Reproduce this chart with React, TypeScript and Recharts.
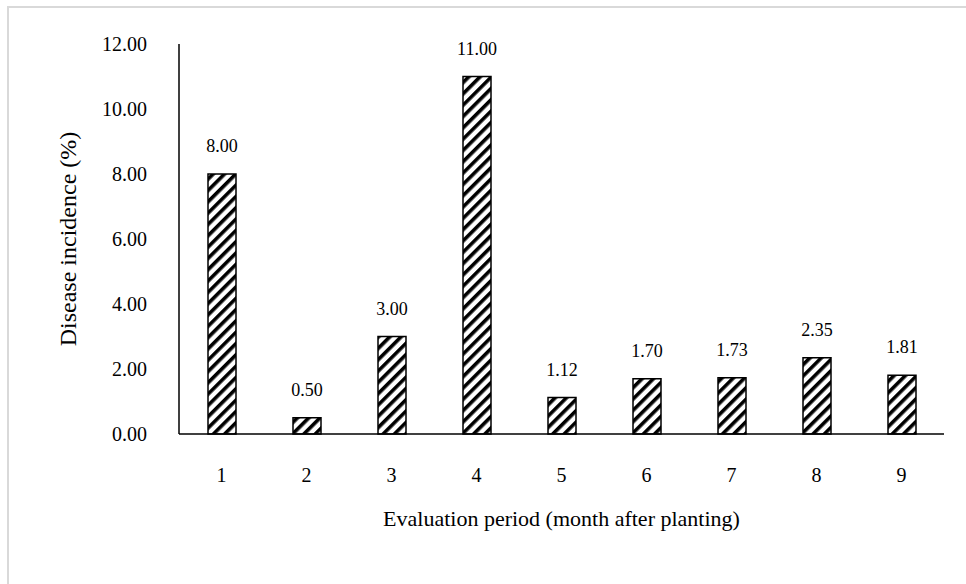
import React from "react";
import { BarChart, Bar, XAxis, YAxis, LabelList } from "recharts";

const periods = ["1", "2", "3", "4", "5", "6", "7", "8", "9"];
const incidence = [8.0, 0.5, 3.0, 11.0, 1.12, 1.7, 1.73, 2.35, 1.81];
const yTicks = [0, 2, 4, 6, 8, 10, 12];
const xTitle = "Evaluation period (month after planting)";
const yTitle = "Disease incidence (%)";

const data = periods.map((p, i) => ({ period: p, value: incidence[i] }));

const FONT = "'Liberation Serif', 'Times New Roman', serif";

export default function App() {
  return (
    <div style={{ position: "absolute", left: 0, top: 0, width: 966, height: 584, background: "#fff", overflow: "hidden" }}>
      <div
        style={{
          position: "absolute",
          left: 7,
          top: 6,
          width: 980,
          height: 600,
          borderLeft: "2px solid #d9d9d9",
          borderTop: "2px solid #d9d9d9",
        }}
      />
      <div style={{ position: "absolute", left: 0, top: 0 }}>
        <BarChart
          width={966}
          height={584}
          data={data}
          margin={{ top: 44, right: 22, bottom: 0, left: 0 }}
          barSize={28}
        >
          <defs>
            <pattern
              id="hatch"
              patternUnits="userSpaceOnUse"
              width={8}
              height={8}
              patternTransform="rotate(45)"
            >
              <rect x={0} y={0} width={8} height={8} fill="#ffffff" />
              <rect x={0} y={0} width={3.6} height={8} fill="#000000" />
            </pattern>
          </defs>
          <XAxis
            dataKey="period"
            axisLine={{ stroke: "#000", strokeWidth: 1.5 }}
            tickLine={false}
            tickSize={0}
            tickMargin={34}
            tick={{ fill: "#000", fontSize: 20, fontFamily: FONT }}
            height={150}
            label={(props: any) => {
              const vb = props.viewBox;
              return (
                <text
                  x={vb.x + vb.width / 2}
                  y={vb.y + 87}
                  textAnchor="middle"
                  dominantBaseline="middle"
                  fill="#000"
                  fontSize={22}
                  fontFamily={FONT}
                >
                  {xTitle}
                </text>
              );
            }}
          />
          <YAxis
            domain={[0, 12]}
            ticks={yTicks}
            interval={0}
            width={179}
            axisLine={{ stroke: "#000", strokeWidth: 1.5 }}
            tickLine={false}
            tickSize={0}
            tickMargin={32}
            tickFormatter={(v: number) => v.toFixed(2)}
            tick={{ fill: "#000", fontSize: 20, fontFamily: FONT }}
            label={(props: any) => {
              const vb = props.viewBox;
              const cx = vb.x + 70;
              const cy = vb.y + vb.height / 2;
              return (
                <text
                  x={cx}
                  y={cy}
                  transform={`rotate(-90, ${cx}, ${cy})`}
                  textAnchor="middle"
                  dominantBaseline="middle"
                  fill="#000"
                  fontSize={24}
                  fontFamily={FONT}
                >
                  {yTitle}
                </text>
              );
            }}
          />
          <Bar
            dataKey="value"
            fill="url(#hatch)"
            stroke="#000"
            strokeWidth={1.5}
            isAnimationActive={false}
          >
            <LabelList
              dataKey="value"
              position="top"
              offset={22}
              formatter={(v: number) => v.toFixed(2)}
              fill="#000"
              fontSize={18}
              fontFamily={FONT}
            />
          </Bar>
        </BarChart>
      </div>
    </div>
  );
}
